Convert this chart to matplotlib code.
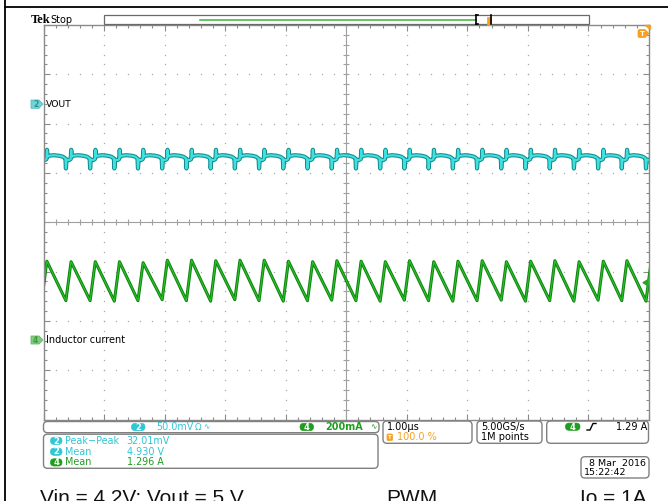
import numpy as np
import matplotlib.pyplot as plt
from matplotlib.patches import FancyBboxPatch, Polygon, Rectangle

W, H = 668, 501

# screen: 1.00 us/div, trigger at 100 % -> time runs -10 .. 0 us
t_min, t_max = -10.0, 0.0
div_min, div_max = -4.0, 4.0

# start of each inductor current ramp (switch on), us
valley_t = [-10.03, -9.63, -9.23, -8.83, -8.44, -8.04, -7.64, -7.24, -6.84, -6.44,
            -6.04, -5.64, -5.24, -4.84, -4.44, -4.04, -3.64, -3.24, -2.84, -2.44,
            -2.04, -1.64, -1.24, -0.84, -0.45, -0.05]
rise_us = 0.085

# ch4 inductor current (200 mA/div), screen divisions
i_valley = [-1.60, -1.59, -1.59, -1.60, -1.59, -1.57, -1.59, -1.60, -1.57, -1.59,
            -1.60, -1.59, -1.58, -1.59, -1.60, -1.58, -1.59, -1.60, -1.59, -1.58,
            -1.60, -1.59, -1.60, -1.58, -1.59, -1.60]
i_peak = [-0.79, -0.80, -0.80, -0.80, -0.82, -0.77, -0.77, -0.78, -0.77, -0.77,
          -0.79, -0.80, -0.78, -0.79, -0.80, -0.78, -0.80, -0.79, -0.78, -0.80,
          -0.79, -0.78, -0.80, -0.79, -0.78, -0.80]

# ch2 vout ripple over one switching period (50 mV/div): offset from ramp start, divisions
v_dt = [-0.025, -0.008, 0.0, 0.012, 0.05, 0.079, 0.088, 0.099, 0.132, 0.198, 0.281, 0.347]
v_div = [1.31, 1.29, 1.09, 1.27, 1.26, 1.28, 1.47, 1.33, 1.35, 1.36, 1.35, 1.33]

CYAN = '#2fc6d6'
GREEN = '#1e9e1e'
ORANGE = '#f5a020'
GRAY = '#8a8a8a'

fig = plt.figure(figsize=(W / 100, H / 100), dpi=100)

# ---- graticule ----
x0, x1, y0, y1 = 43.5, 649.0, 25.0, 419.5
ax = fig.add_axes([x0 / W, 1 - y1 / H, (x1 - x0) / W, (y1 - y0) / H])
ax.set_xlim(t_min, t_max)
ax.set_ylim(div_min, div_max)
for s in ax.spines.values():
    s.set_color(GRAY)
    s.set_linewidth(1.0)
ax.set_xticks(np.arange(-10, 0.01, 1))
ax.set_yticks(np.arange(-4, 4.01, 1))
ax.set_xticks(np.arange(-10, 0.01, 0.2), minor=True)
ax.set_yticks(np.arange(-4, 4.01, 0.2), minor=True)
ax.tick_params(which='both', direction='in', top=True, right=True,
               labelbottom=False, labelleft=False, color=GRAY)
ax.tick_params(which='major', length=4, width=0.8)
ax.tick_params(which='minor', length=2.5, width=0.8)

dots_y = np.arange(-4, 4.01, 0.2)
dots_x = np.arange(-10, 0.01, 0.2)
for gx in range(-9, 0):
    if gx != -5:
        ax.plot([gx] * len(dots_y), dots_y, ls='none', marker='s', ms=0.9,
                mew=0, color='#a8a8a8')
for gy in range(-3, 4):
    if gy != 0:
        ax.plot(dots_x, [gy] * len(dots_x), ls='none', marker='s', ms=0.9,
                mew=0, color='#a8a8a8')
ax.axvline(-5, color='#a0a0a0', lw=0.8)
ax.axhline(0, color='#a0a0a0', lw=0.8)
ax.plot(dots_x, np.zeros_like(dots_x), ls='none', marker='|', ms=4, mew=0.8, color='#a0a0a0')
ax.plot(np.full_like(dots_y, -5), dots_y, ls='none', marker='_', ms=5, mew=0.8, color='#a0a0a0')

# ---- traces ----
it, iv = [], []
for k in range(len(valley_t)):
    it += [valley_t[k], valley_t[k] + rise_us]
    iv += [i_valley[k], i_peak[k]]
ax.plot(it, iv, color='#0d840d', lw=2.2)
ax.plot(it, iv, color='#2cc02c', lw=0.8)

vt, vv = [], []
for tv in valley_t:
    vt += [tv + d for d in v_dt]
    vv += v_div
ax.plot(vt, vv, color='#168c8c', lw=3.0)
ax.plot(vt, vv, color='#3ee0e0', lw=1.5)

# ---- overlay in pixel coordinates ----
ov = fig.add_axes([0, 0, 1, 1])
ov.set_xlim(0, W)
ov.set_ylim(H, 0)
ov.axis('off')


def rbox(xa, ya, xb, yb, r=3.0, fc='none', ec='#808080', lw=1.0):
    ov.add_patch(FancyBboxPatch((xa, ya), xb - xa, yb - ya,
                                boxstyle=f'round,pad=0,rounding_size={r}',
                                fc=fc, ec=ec, lw=lw))


def oval(xa, xb, yc, label, color):
    rbox(xa, yc - 3.6, xb, yc + 3.6, r=3.6, fc=color, ec=color, lw=0.5)
    ov.text((xa + xb) / 2, yc + 0.3, label, ha='center', va='center', fontsize=6,
            color='white', fontweight='bold')


def txt(x, y, s, color='black', size=6.8, **kw):
    ov.text(x, y, s, ha=kw.pop('ha', 'left'), va=kw.pop('va', 'center'),
            fontsize=size, color=color, family='DejaVu Sans', **kw)


# page border lines
ov.plot([5, 5], [0, H], color='black', lw=1.3)
ov.plot([5, W], [7, 7], color='black', lw=1.3)

# header
ov.text(31, 23, 'Tek', fontsize=9, fontweight='bold', family='Liberation Serif',
        va='baseline')
ov.text(50.5, 22.7, 'Stop', fontsize=7, family='DejaVu Sans', va='baseline')
ov.add_patch(Rectangle((104, 15), 485, 9.3, fc='white', ec='#6a6a6a', lw=0.9))
ov.plot([200, 476], [19.5, 19.5], color='#4cbb4c', lw=1.2)
ov.plot([476, 476], [15, 24.3], color='black', lw=1.2)
ov.plot([491, 491], [15, 24.3], color='black', lw=1.2)
ov.plot([476, 478], [15, 15], color='black', lw=1.2)
ov.plot([476, 478], [24.3, 24.3], color='black', lw=1.2)
ov.add_patch(Rectangle((487, 17), 3.5, 7.5, fc=ORANGE, ec=ORANGE, lw=0.5))

# trigger position marker, top right
ov.add_patch(Polygon([[645, 25], [649.5, 25], [649.5, 29]], fc=ORANGE, ec=ORANGE))
rbox(638, 29.5, 646, 37.5, r=1.5, fc=ORANGE, ec=ORANGE, lw=0.5)
ov.add_patch(Polygon([[646, 31], [648.5, 33.5], [646, 36]], fc=ORANGE, ec=ORANGE))
ov.text(642, 33.8, 'T', fontsize=5, color='white', fontweight='bold', ha='center', va='center')

# channel markers on the left
ov.add_patch(Polygon([[31, 100], [39, 100], [43, 104], [39, 108.3], [31, 108.3]],
                     fc='#72d2d6', ec='#5bbcc0', lw=0.6))
ov.text(35.5, 104.3, '2', fontsize=5.5, color='#2f8f93', ha='center', va='center',
        fontweight='bold')
txt(45.7, 104, 'VOUT', size=6.7)
ov.add_patch(Polygon([[31, 336], [39, 336], [43, 340], [39, 344], [31, 344]],
                     fc='#7fca7f', ec='#68b868', lw=0.6))
ov.text(35.5, 340.2, '4', fontsize=5.5, color='#3f9a3f', ha='center', va='center',
        fontweight='bold')
txt(45.7, 339.7, 'Inductor current', size=7)

# ch4 trigger level arrow on right edge
ov.add_patch(Polygon([[643, 282.7], [647.5, 280], [647.5, 285.4]], fc='#2aa52a', ec='#2aa52a'))

# channel scale box
rbox(43.5, 421.5, 379, 432.7, r=4)
oval(131.5, 145, 427, '2', CYAN)
txt(156.5, 427, '50.0mV', CYAN, 6.9)
txt(194.5, 427, 'Ω', CYAN, 6.3)
txt(203.5, 426.5, '∿', CYAN, 5.5)
oval(300, 313.5, 427, '4', GREEN)
txt(325, 427, '200mA', GREEN, 6.9, fontweight='bold')
txt(370, 426.5, '∿', GREEN, 5.5)

# measurements box
rbox(43.5, 434.2, 378, 468.3, r=4)
rows = [(440.8, '2', CYAN, 'Peak\u2212Peak', '32.01mV'),
        (451.7, '2', CYAN, 'Mean', '4.930 V'),
        (462.4, '4', GREEN, 'Mean', '1.296 A')]
for yy, ch, col, name, val in rows:
    oval(50.5, 62, yy, ch, col)
    txt(65, yy, name, col, 6.9)
    txt(126.7, yy, val, col, 6.9)

# timebase box
rbox(383, 421, 472, 443.3, r=4)
txt(387, 427, '1.00µs', 'black', 7)
rbox(387, 434, 392.5, 440.5, r=1, fc=ORANGE, ec=ORANGE, lw=0.5)
ov.text(389.7, 437.4, 'T', fontsize=4, color='white', fontweight='bold', ha='center', va='center')
txt(397, 437.5, '100.0 %', ORANGE, 7)

# acquisition box
rbox(477, 421, 542, 443.3, r=4)
txt(481, 427, '5.00GS/s', 'black', 7)
txt(481, 437.5, '1M points', 'black', 7)

# trigger box
rbox(546.7, 421, 648.5, 443.3, r=4)
oval(565.5, 580, 426.7, '4', GREEN)
ov.plot([587, 590, 593, 596], [430, 430, 423.5, 423.5], color='black', lw=1.0)
txt(647, 427, '1.29 A', 'black', 7, ha='right')

# date box
rbox(581, 456.7, 649, 478, r=4)
txt(646, 463.2, '8 Mar  2016', 'black', 6.8, ha='right')
txt(584, 472.5, '15:22:42', 'black', 6.8)

# captions cut off at the bottom edge
cap = dict(fontsize=15, family='Liberation Sans', va='baseline', color='#111111')
ov.text(40.5, 504, 'Vin = 4.2V; Vout = 5 V', **cap)
ov.text(386.5, 504, 'PWM', **cap)
ov.text(647, 504, 'Io = 1A', ha='right', **cap)

fig.savefig('out.png', dpi=100)
